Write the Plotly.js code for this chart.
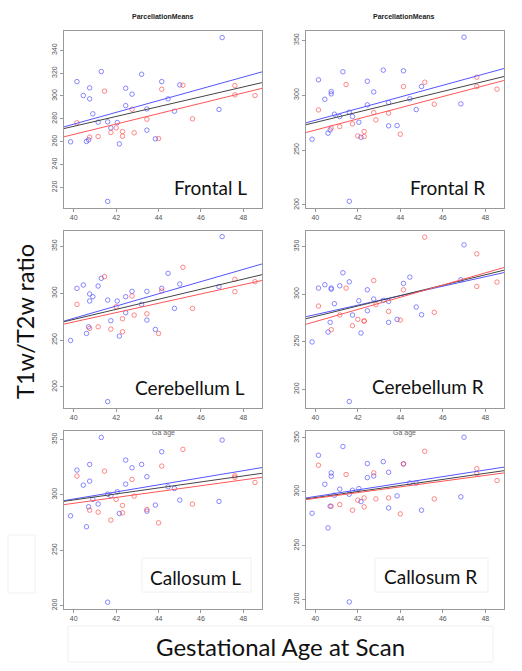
<!DOCTYPE html>
<html>
<head>
<meta charset="utf-8">
<script src="https://cdn.plot.ly/plotly-3.0.1.min.js"></script>
<style>html,body{margin:0;padding:0;background:#fff;}#chart{width:522px;height:671px;}</style>
</head>
<body>
<div id="chart"></div>
<script>
// ---- data ----
const blueAge = [39.85, 40.15, 40.45, 40.75, 40.75, 40.9, 40.7, 40.6, 41.15, 41.3, 41.6, 41.75, 41.6, 42.05, 42.15, 42.45, 42.45, 42.75, 43.2, 43.45, 43.45, 43.85, 44.15, 44.45, 44.75, 45.0, 46.85, 47.0];
const redAge = [40.15, 40.75, 41.15, 41.45, 41.75, 42.0, 42.3, 42.3, 42.75, 42.85, 43.45, 44.0, 44.15, 45.15, 45.6, 47.6, 47.6, 48.55];

const frontalLBlue = [259.9, 312.6, 300.4, 307.1, 297.5, 284.4, 261.6, 260.2, 277.1, 321.4, 277.4, 272.1, 207.8, 276.8, 258.1, 306.8, 291.6, 301.6, 319.0, 288.7, 270.1, 262.5, 312.6, 297.5, 286.7, 309.7, 288.2, 351.1];
const frontalLRed = [276.5, 264.0, 264.6, 304.2, 268.1, 272.1, 268.9, 264.8, 288.4, 267.8, 279.7, 262.8, 305.9, 309.4, 280.0, 309.1, 301.0, 300.4];
const frontalRBlue = [259.8, 313.9, 296.2, 303.2, 301.1, 282.6, 268.3, 265.3, 280.5, 321.2, 284.4, 280.5, 203.3, 275.3, 261.6, 312.6, 291.1, 302.9, 322.7, 293.2, 272.0, 272.3, 322.1, 296.6, 286.8, 307.8, 292.0, 352.7];
const frontalRRed = [286.5, 270.0, 271.3, 309.6, 273.8, 262.8, 266.8, 262.2, 284.1, 277.4, 283.5, 264.4, 307.8, 311.7, 291.7, 316.3, 307.8, 305.4];
const cerebellumLBlue = [249.5, 305.1, 308.7, 299.1, 291.6, 296.2, 264.1, 257.0, 307.6, 315.8, 292.6, 270.6, 184.3, 291.6, 254.2, 296.2, 279.1, 301.9, 288.0, 301.9, 271.3, 261.3, 305.1, 321.1, 283.7, 309.7, 306.9, 360.3];
const cerebellumLRed = [288.0, 262.4, 264.1, 317.6, 261.6, 285.5, 272.7, 258.8, 296.9, 276.6, 278.0, 257.0, 302.3, 327.6, 283.7, 314.7, 301.6, 312.2];
const cerebellumRBlue = [249.7, 306.3, 309.8, 306.3, 305.2, 289.9, 270.3, 260.1, 308.7, 322.4, 312.9, 278.0, 187.1, 293.0, 259.1, 304.5, 282.5, 294.8, 293.4, 292.3, 270.3, 273.4, 311.2, 317.8, 286.4, 278.3, 315.0, 351.7];
const cerebellumRRed = [287.4, 262.6, 278.0, 306.3, 266.8, 273.4, 271.7, 271.7, 314.3, 289.0, 281.8, 272.7, 304.5, 359.8, 280.8, 342.3, 308.0, 312.6];
const callosumLBlue = [281.0, 322.3, 308.7, 327.4, 312.3, 295.8, 289.2, 271.1, 291.6, 351.8, 300.6, 299.1, 203.0, 302.7, 283.1, 331.3, 309.6, 324.4, 327.4, 316.3, 285.2, 290.7, 338.9, 307.2, 305.7, 295.2, 294.0, 349.4];
const callosumLRed = [316.9, 286.1, 284.3, 321.4, 277.1, 295.8, 290.4, 283.7, 313.9, 298.8, 286.7, 274.7, 325.9, 341.0, 291.6, 317.2, 315.7, 311.1];
const callosumRBlue = [280.1, 333.9, 307.0, 317.5, 314.4, 296.8, 286.6, 266.5, 302.4, 342.0, 297.7, 301.4, 197.8, 303.0, 290.9, 326.2, 313.2, 314.7, 328.0, 318.1, 285.0, 296.2, 325.9, 308.2, 308.2, 282.9, 295.3, 350.6];
const callosumRRed = [324.6, 286.6, 288.1, 316.0, 282.9, 292.2, 286.0, 294.3, 317.5, 293.4, 294.3, 279.5, 325.9, 337.6, 293.4, 321.5, 316.9, 310.4];

// regression line end values at fitX
const fitX = [39.54, 48.88];
const frontalLFit = {blue: [273.0, 321.1], all: [271.5, 311.7], red: [264.3, 306.7]};
const frontalRFit = {blue: [274.6, 324.2], all: [272.9, 316.9], red: [265.8, 313.3]};
const cerebellumLFit = {blue: [270.2, 331.1], all: [269.5, 319.7], red: [267.0, 313.5]};
const cerebellumRFit = {blue: [276.1, 322.6], all: [274.0, 325.1], red: [268.1, 327.9]};
const callosumLFit = {blue: [294.7, 324.6], all: [294.1, 319.4], red: [291.1, 315.8]};
const callosumRFit = {blue: [294.2, 322.9], all: [293.3, 319.6], red: [292.7, 317.5]};

const panelNames = ["Frontal L", "Frontal R", "Cerebellum L", "Cerebellum R", "Callosum L", "Callosum R"];
const xTicks = [40, 42, 44, 46, 48];

// ---- layout helpers ----
const W = 522, H = 671;
const px = v => v / W;
const py = v => 1 - v / H;

const cols = [[64, 262], [305.5, 504]];
const rows = [[30.5, 208], [230.5, 408], [431, 608.5]];

const panels = [
  {b: frontalLBlue, r: frontalLRed, fit: frontalLFit, yr: [202, 357.3], dt: 20},
  {b: frontalRBlue, r: frontalRRed, fit: frontalRFit, yr: [197.2, 358.8], dt: 50},
  {b: cerebellumLBlue, r: cerebellumLRed, fit: cerebellumLFit, yr: [177.5, 366.8], dt: 50},
  {b: cerebellumRBlue, r: cerebellumRRed, fit: cerebellumRFit, yr: [180.3, 366.8], dt: 50},
  {b: callosumLBlue, r: callosumLRed, fit: callosumLFit, yr: [197.3, 357.6], dt: 50},
  {b: callosumRBlue, r: callosumRRed, fit: callosumRFit, yr: [191.7, 356.4], dt: 50}
];

const traces = [];
const layout = {
  width: W, height: H,
  margin: {l: 0, r: 0, t: 0, b: 0},
  paper_bgcolor: '#fff', plot_bgcolor: '#fff',
  showlegend: false,
  annotations: [], shapes: []
};

const axFont = {family: 'Liberation Sans, Arial, sans-serif', size: 7, color: '#555'};

panels.forEach((p, i) => {
  const n = i + 1;
  const xa = 'x' + (n === 1 ? '' : n), ya = 'y' + (n === 1 ? '' : n);
  const c = cols[i % 2], r = rows[Math.floor(i / 2)];
  layout['xaxis' + (n === 1 ? '' : n)] = {
    domain: [px(c[0]), px(c[1])], anchor: ya, range: fitX,
    tickvals: xTicks, ticks: 'outside', ticklen: 3, tickcolor: '#999',
    showline: true, mirror: true, linecolor: '#999', linewidth: 1,
    showgrid: false, zeroline: false, tickfont: axFont, fixedrange: true
  };
  layout['yaxis' + (n === 1 ? '' : n)] = {
    domain: [py(r[1]), py(r[0])], anchor: xa, range: p.yr,
    dtick: p.dt, tick0: 0, ticks: 'outside', ticklen: 3, tickcolor: '#999',
    showline: true, mirror: true, linecolor: '#999', linewidth: 1,
    showgrid: false, zeroline: false, tickfont: axFont, tickangle: -90, fixedrange: true
  };
  traces.push({x: blueAge, y: p.b, xaxis: xa, yaxis: ya, type: 'scatter', mode: 'markers',
    marker: {symbol: 'circle-open', size: 4.5, color: 'rgba(60,60,255,0.6)', line: {width: 1}}});
  traces.push({x: redAge, y: p.r, xaxis: xa, yaxis: ya, type: 'scatter', mode: 'markers',
    marker: {symbol: 'circle-open', size: 4.5, color: 'rgba(255,60,60,0.6)', line: {width: 1}}});
  traces.push({x: fitX, y: p.fit.blue, xaxis: xa, yaxis: ya, type: 'scatter', mode: 'lines',
    line: {color: '#5555ff', width: 1}});
  traces.push({x: fitX, y: p.fit.all, xaxis: xa, yaxis: ya, type: 'scatter', mode: 'lines',
    line: {color: '#444', width: 1}});
  traces.push({x: fitX, y: p.fit.red, xaxis: xa, yaxis: ya, type: 'scatter', mode: 'lines',
    line: {color: '#ff5555', width: 1}});
});

const labelPos = [[210, 188], [447, 188], [190, 387], [428, 386], [195, 577], [430, 576]];
const bigFont = {family: 'Lato, Carlito, sans-serif', size: 19, color: '#111'};
panelNames.forEach((name, i) => {
  layout.annotations.push({text: name, x: px(labelPos[i][0]), y: py(labelPos[i][1]),
    xref: 'paper', yref: 'paper', showarrow: false, xanchor: 'center', yanchor: 'middle', font: bigFont});
});

// light boxes around some labels
[[142, 558, 251, 592], [375, 558, 488, 592], [68, 626, 493, 662], [8, 535, 35, 593]].forEach(b => {
  layout.shapes.push({type: 'rect', xref: 'paper', yref: 'paper',
    x0: px(b[0]), x1: px(b[2]), y0: py(b[3]), y1: py(b[1]),
    line: {color: '#f0f0f0', width: 1}, fillcolor: 'rgba(0,0,0,0)', layer: 'below'});
});

const smallTitle = {family: 'Liberation Sans, Arial, sans-serif', size: 7, color: '#222'};
[[163, 17], [404, 17]].forEach(pos => {
  layout.annotations.push({text: '<b>ParcellationMeans</b>', x: px(pos[0]), y: py(pos[1]),
    xref: 'paper', yref: 'paper', showarrow: false, xanchor: 'center', yanchor: 'middle', font: smallTitle});
});
[[163, 433], [404, 433]].forEach(pos => {
  layout.annotations.push({text: 'Ga age', x: px(pos[0]), y: py(pos[1]),
    xref: 'paper', yref: 'paper', showarrow: false, xanchor: 'center', yanchor: 'middle',
    font: {family: 'Liberation Sans, Arial, sans-serif', size: 7, color: '#666'}});
});

layout.annotations.push({text: 'T1w/T2w ratio', x: px(25), y: py(322), xref: 'paper', yref: 'paper',
  showarrow: false, textangle: -90, xanchor: 'center', yanchor: 'middle',
  font: {family: 'Lato, Carlito, sans-serif', size: 23.5, color: '#111'}});
layout.annotations.push({text: 'Gestational Age at Scan', x: px(280), y: py(646), xref: 'paper', yref: 'paper',
  showarrow: false, xanchor: 'center', yanchor: 'middle',
  font: {family: 'Lato, Carlito, sans-serif', size: 24, color: '#111'}});

Plotly.newPlot('chart', traces, layout, {staticPlot: true, displayModeBar: false});
</script>
</body>
</html>
